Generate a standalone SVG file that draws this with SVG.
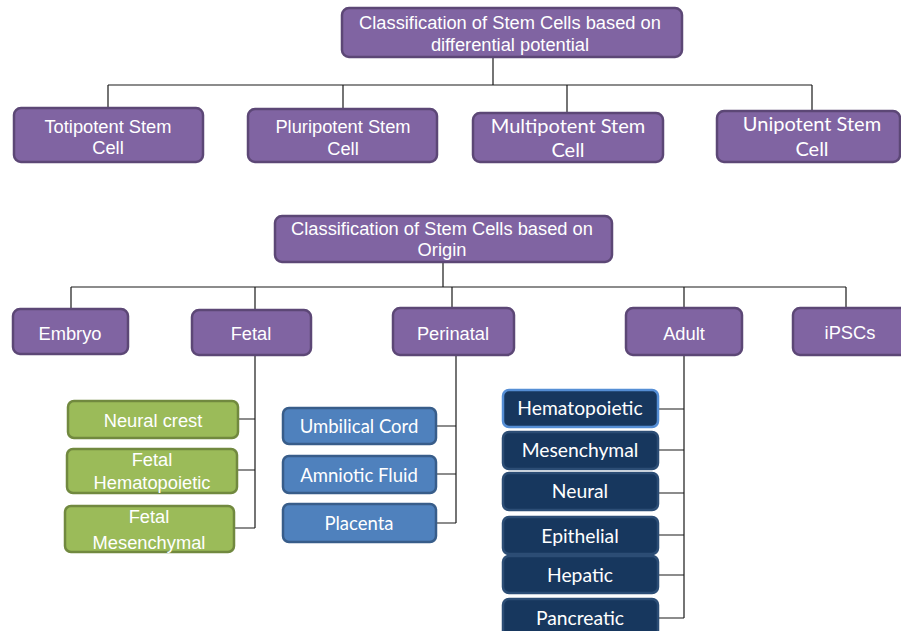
<svg xmlns="http://www.w3.org/2000/svg" width="901" height="631" viewBox="0 0 901 631">
<style>
.p{fill:#8064a2;stroke:#5c4776;stroke-width:2.5}
.g{fill:#9bbb59;stroke:#71893f;stroke-width:2.5}
.b{fill:#4f81bd;stroke:#385d8a;stroke-width:2.5}
.n{fill:#17375e;stroke:#2c4d75;stroke-width:2.5}
.nh{fill:#17375e;stroke:#558ed5;stroke-width:2.5}
text{fill:#ffffff;text-anchor:middle}
.a{font-family:"Liberation Sans",Arial,sans-serif;font-size:18.3px}
.c{font-family:Lato,"Liberation Sans",sans-serif;font-size:18.5px}
.cl{font-family:Lato,"Liberation Sans",sans-serif;font-size:20px}
.cn{font-family:Lato,"Liberation Sans",sans-serif;font-size:19.3px}
.conn{fill:none;stroke:#1a1a1a;stroke-width:1.2}
</style>
<rect width="901" height="631" fill="#ffffff"/>
<g id="connectors" class="conn">
<path d="M493 57V85M108 85H812M108 85V108M343 85V109M567 85V113M812 85V111"/>
<path d="M443 262V287M71 287H846M71 287V309M255 287V310M452 287V308M684 287V308M846 287V308"/>
<path d="M255 355V528M238 419H255M237 470H255M234 528H255"/>
<path d="M456 355V523M436 426H456M436 474H456M436 523H456"/>
<path d="M684 355V618M658 409H684M658 450H684M658 493H684M658 535H684M658 575H684M658 618H684"/>
</g>
<g id="root1"><rect class="p" x="342" y="8" width="340" height="49" rx="7"/><text class="a"><tspan x="510" y="29">Classification of Stem Cells based on</tspan><tspan x="510" y="51">differential potential</tspan></text></g>
<g id="toti"><rect class="p" x="14" y="108" width="189" height="54" rx="7"/><text class="a"><tspan x="108" y="133">Totipotent Stem</tspan><tspan x="108" y="154">Cell</tspan></text></g>
<g id="pluri"><rect class="p" x="248" y="109" width="189" height="53" rx="7"/><text class="a"><tspan x="343" y="133">Pluripotent Stem</tspan><tspan x="343" y="155">Cell</tspan></text></g>
<g id="multi"><rect class="p" x="473" y="113" width="190" height="49" rx="7"/><text class="cl"><tspan x="568" y="133">Multipotent Stem</tspan><tspan x="568" y="157">Cell</tspan></text></g>
<g id="uni"><rect class="p" x="717" y="111" width="183" height="51" rx="7"/><text class="cl"><tspan x="812" y="131">Unipotent Stem</tspan><tspan x="812" y="156">Cell</tspan></text></g>
<g id="root2"><rect class="p" x="275" y="216" width="337" height="46" rx="7"/><text class="a"><tspan x="442" y="235">Classification of Stem Cells based on</tspan><tspan x="442" y="256">Origin</tspan></text></g>
<g id="embryo"><rect class="p" x="13" y="309" width="115" height="45" rx="7"/><text class="a" x="70" y="340">Embryo</text></g>
<g id="fetal"><rect class="p" x="192" y="310" width="119" height="45" rx="7"/><text class="a" x="251" y="340">Fetal</text></g>
<g id="perinatal"><rect class="p" x="393" y="308" width="121" height="47" rx="7"/><text class="a" x="453" y="340">Perinatal</text></g>
<g id="adult"><rect class="p" x="626" y="308" width="116" height="47" rx="7"/><text class="a" x="684" y="340">Adult</text></g>
<g id="ipscs"><rect class="p" x="793" y="308" width="120" height="47" rx="7"/><text class="a" x="850" y="339">iPSCs</text></g>
<g id="neuralcrest"><rect class="g" x="68" y="401" width="170" height="37" rx="6"/><text class="a" x="153" y="427">Neural crest</text></g>
<g id="fetalhema"><rect class="g" x="67" y="449" width="170" height="44" rx="6"/><text class="a"><tspan x="152" y="466">Fetal</tspan><tspan x="152" y="489">Hematopoietic</tspan></text></g>
<g id="fetalmes"><rect class="g" x="65" y="506" width="169" height="46" rx="6"/><text class="a"><tspan x="149" y="523">Fetal</tspan><tspan x="149" y="549">Mesenchymal</tspan></text></g>
<g id="umbilical"><rect class="b" x="283" y="408" width="153" height="36" rx="6"/><text class="c" x="359" y="433">Umbilical Cord</text></g>
<g id="amniotic"><rect class="b" x="283" y="456" width="153" height="37" rx="6"/><text class="c" x="359" y="482">Amniotic Fluid</text></g>
<g id="placenta"><rect class="b" x="283" y="504" width="153" height="38" rx="6"/><text class="c" x="359" y="530">Placenta</text></g>
<g id="hemato"><rect class="nh" x="503" y="390" width="155" height="37" rx="6"/><text class="cn" x="580" y="415">Hematopoietic</text></g>
<g id="mesen"><rect class="n" x="503" y="432" width="155" height="37" rx="6"/><text class="cn" x="580" y="457">Mesenchymal</text></g>
<g id="neural"><rect class="n" x="503" y="473" width="155" height="37" rx="6"/><text class="cn" x="580" y="498">Neural</text></g>
<g id="epith"><rect class="n" x="503" y="517" width="155" height="37" rx="6"/><text class="cn" x="580" y="543">Epithelial</text></g>
<g id="hepatic"><rect class="n" x="503" y="556" width="155" height="37" rx="6"/><text class="cn" x="580" y="582">Hepatic</text></g>
<g id="pancreatic"><rect class="n" x="503" y="599" width="155" height="45" rx="6"/><text class="cn" x="580" y="625">Pancreatic</text></g>
</svg>
